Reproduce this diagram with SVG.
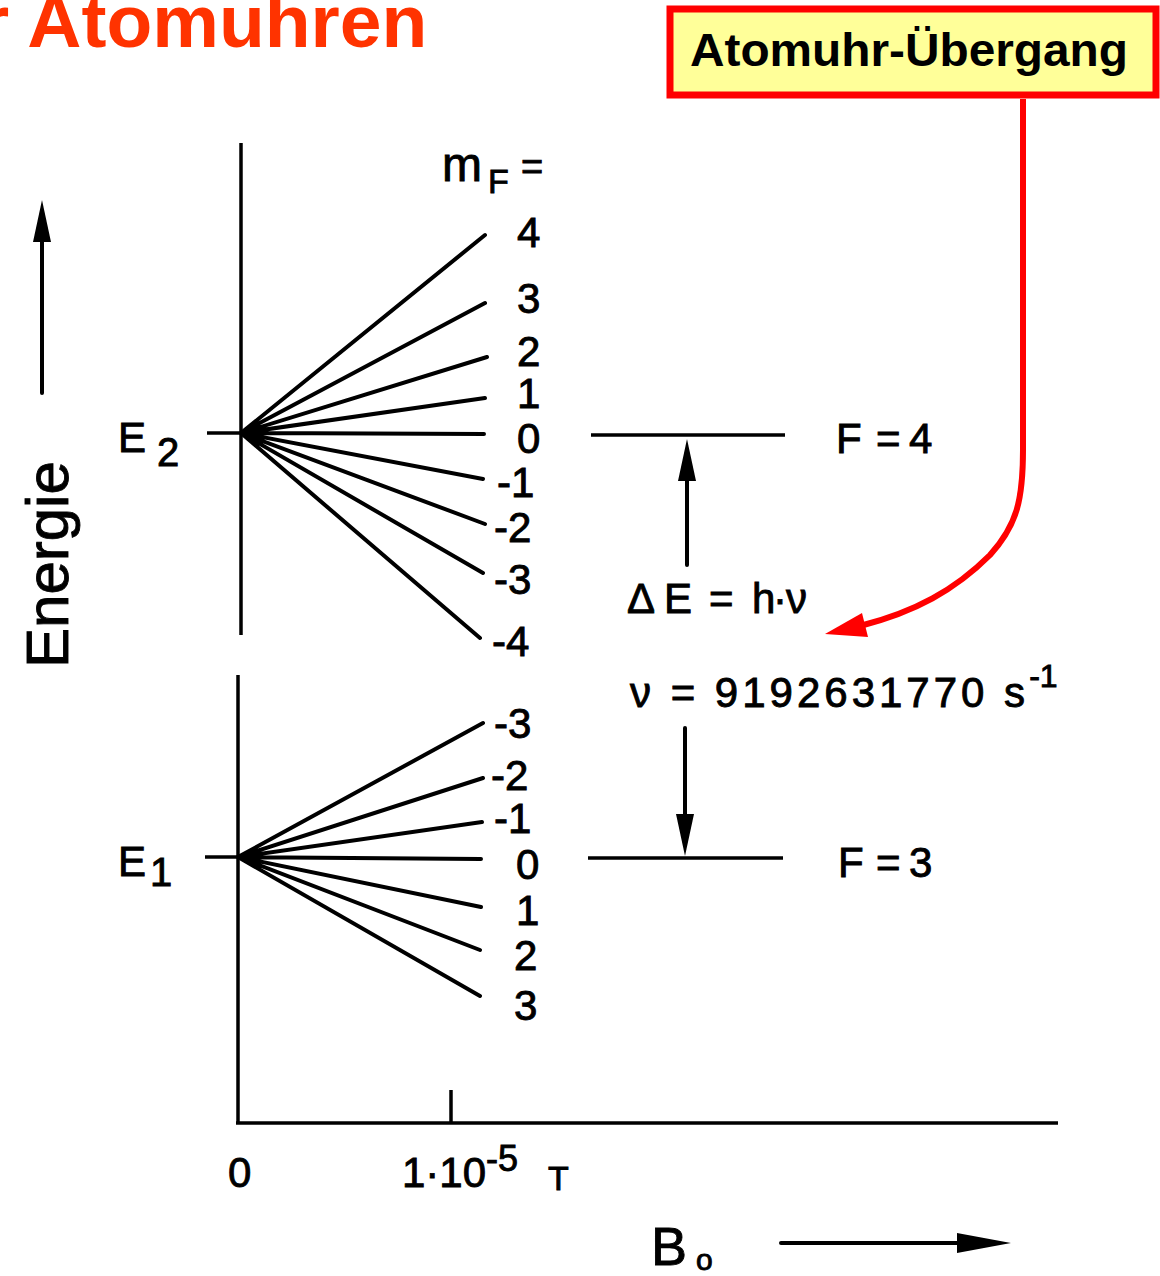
<svg xmlns="http://www.w3.org/2000/svg" width="1160" height="1276" viewBox="0 0 1160 1276">
<style>
.ln{stroke:#000;stroke-width:4;stroke-linecap:round;fill:none}
.ax{stroke:#000;stroke-width:3.5;fill:none}
.t{font-family:"Liberation Sans",Arial,sans-serif;fill:#000;stroke:#000;stroke-width:0.9}
.red{stroke:#FF0000;stroke-width:6;fill:none}
</style>
<defs>
<marker id="ah" markerUnits="userSpaceOnUse" markerWidth="46" markerHeight="22" refX="2" refY="11" orient="auto">
<path d="M0,2 L42,11 L0,20 z" fill="#000"/>
</marker>
<marker id="ahb" markerUnits="userSpaceOnUse" markerWidth="58" markerHeight="24" refX="2" refY="12" orient="auto">
<path d="M0,2 L54,12 L0,22 z" fill="#000"/>
</marker>
</defs>
<rect width="1160" height="1276" fill="#fff"/>
<text id="title" x="-20" y="47" font-family="Liberation Sans,Arial,sans-serif" font-weight="bold" font-size="75" fill="#FF3300">r Atomuhren</text>
<g id="box">
<rect x="670" y="9" width="486" height="86" fill="#FFFF99" stroke="#FF0000" stroke-width="7"/>
<text x="690" y="66" font-family="Liberation Sans,Arial,sans-serif" font-weight="bold" font-size="46" fill="#000" textLength="438" lengthAdjust="spacingAndGlyphs">Atomuhr-Übergang</text>
</g>
<g id="axes">
<line class="ax" x1="241" y1="143" x2="241" y2="635"/>
<line class="ax" x1="238" y1="675" x2="238" y2="1123"/>
<line class="ax" x1="236" y1="1123" x2="1058" y2="1123"/>
<line class="ax" x1="451" y1="1090" x2="451" y2="1123"/>
<line class="ax" x1="207" y1="433" x2="241" y2="433"/>
<line class="ax" x1="205" y1="857" x2="238" y2="857"/>
<line class="ax" x1="591" y1="435" x2="785" y2="435"/>
<line class="ax" x1="588" y1="858" x2="783" y2="858"/>
</g>
<g id="fanE2">
<path class="ln" d="M241,433 L485,235 M241,433 L485,303 M241,433 L487,357 M241,433 L485,398 M241,433 L484,434 M241,433 L483,479 M241,433 L485,524 M241,433 L483,573 M241,433 L480,638"/>
</g>
<g id="fanE1">
<path class="ln" d="M238,857 L483,723 M238,857 L483,778 M238,857 L482,822 M238,857 L481,859 M238,857 L481,907 M238,857 L480,950 M238,857 L480,996"/>
</g>
<g id="connectors">
<line class="ln" x1="42" y1="393" x2="42" y2="240" marker-end="url(#ah)"/>
<line class="ln" x1="687" y1="565" x2="687" y2="479" marker-end="url(#ah)"/>
<line class="ln" x1="685" y1="728" x2="685" y2="816" marker-end="url(#ah)"/>
<line class="ln" x1="781" y1="1243" x2="959" y2="1243" marker-end="url(#ahb)"/>
<path class="red" d="M1023,99 L1023,450 C1023,500 1017,525 990,555 C955,590 915,612 860,626"/>
<polygon points="825,634 862,613 868,637" fill="#FF0000"/>
</g>
<g id="labels" font-size="42">
<text class="t" x="442" y="181" font-size="48">m</text>
<text class="t" x="488" y="193" font-size="34">F</text>
<text class="t" x="521" y="180" font-size="38">=</text>
<text class="t" x="517" y="247">4</text>
<text class="t" x="517" y="313">3</text>
<text class="t" x="517" y="366">2</text>
<text class="t" x="517" y="408">1</text>
<text class="t" x="517" y="453">0</text>
<text class="t" x="497" y="497">-1</text>
<text class="t" x="494" y="542">-2</text>
<text class="t" x="494" y="594">-3</text>
<text class="t" x="492" y="656">-4</text>
<text class="t" x="494" y="738">-3</text>
<text class="t" x="491" y="790">-2</text>
<text class="t" x="494" y="833">-1</text>
<text class="t" x="516" y="879">0</text>
<text class="t" x="516" y="925">1</text>
<text class="t" x="514" y="970">2</text>
<text class="t" x="514" y="1020">3</text>
<text class="t" x="118" y="452">E<tspan x="157" y="466" font-size="40">2</tspan></text>
<text class="t" x="118" y="876">E<tspan x="150" y="886" font-size="40">1</tspan></text>
<text class="t" x="836 849 876 891 909" y="453">F = 4</text>
<text class="t" x="838 851 876 891 909" y="877">F = 3</text>
<text class="t" x="627 664 692 709 735 752 773 786" y="613">ΔE = h·ν</text>
<text class="t" x="630" y="707" letter-spacing="4">ν = 9192631770 s<tspan dy="-20" font-size="32" letter-spacing="0">-1</tspan></text>
<text class="t" x="228" y="1187">0</text>
<text class="t" x="402" y="1187">1·10<tspan dy="-16" font-size="36">-5</tspan><tspan x="548" y="1190" font-size="34">T</tspan></text>
<text class="t" x="651" y="1265" font-size="54">B<tspan x="696" y="1270" font-size="30">o</tspan></text>
<text class="t" transform="translate(68,668) rotate(-90)" font-size="60">Energie</text>
</g>
</svg>
